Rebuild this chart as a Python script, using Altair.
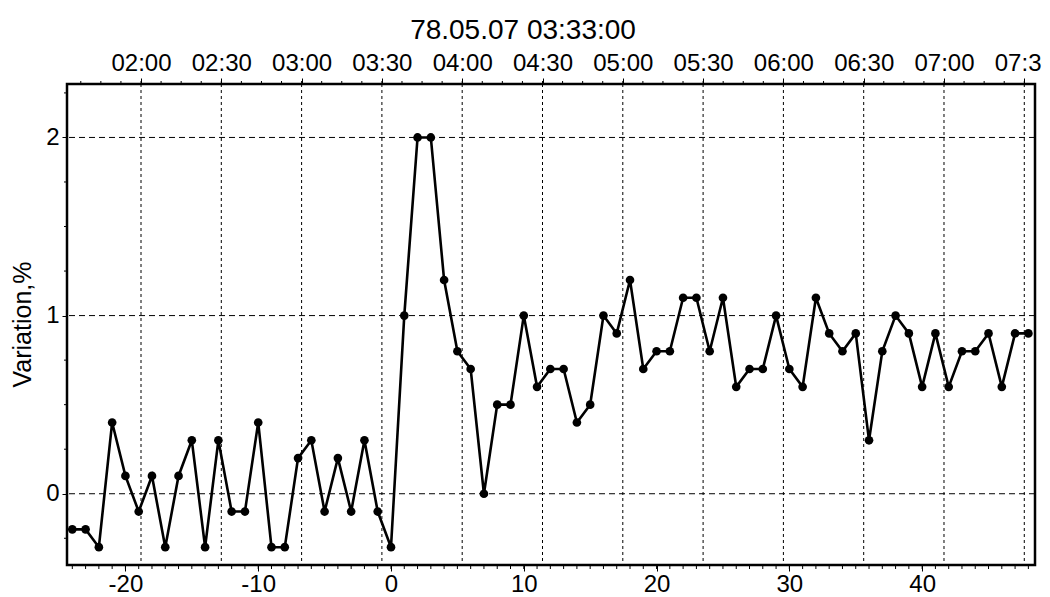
import json
import altair as alt
import pandas as pd

# ---- data ----
x_index = list(range(-24, 49))
variation = [
    -0.2, -0.2, -0.3, 0.4, 0.1, -0.1, 0.1, -0.3, 0.1, 0.3,
    -0.3, 0.3, -0.1, -0.1, 0.4, -0.3, -0.3, 0.2, 0.3, -0.1,
    0.2, -0.1, 0.3, -0.1, -0.3, 1.0, 2.0, 2.0, 1.2, 0.8,
    0.7, 0.0, 0.5, 0.5, 1.0, 0.6, 0.7, 0.7, 0.4, 0.5,
    1.0, 0.9, 1.2, 0.7, 0.8, 0.8, 1.1, 1.1, 0.8, 1.1,
    0.6, 0.7, 0.7, 1.0, 0.7, 0.6, 1.1, 0.9, 0.8, 0.9,
    0.3, 0.8, 1.0, 0.9, 0.6, 0.9, 0.6, 0.8, 0.8, 0.9,
    0.6, 0.9, 0.9,
]
time_minutes = [120, 150, 180, 210, 240, 270, 300, 330, 360, 390, 420, 450]
time_labels = ["02:00", "02:30", "03:00", "03:30", "04:00", "04:30",
               "05:00", "05:30", "06:00", "06:30", "07:00", "07:30"]
bottom_ticks = [-20, -10, 0, 10, 20, 30, 40]
y_ticks = [0, 1, 2]
title_text = "78.05.07 03:33:00"
y_title = "Variation,%"

# minor tick positions (axis decoration)
top_minor = [97.5 + 7.5 * k for k in range(48)]
bottom_minor = list(range(-24, 49))
left_minor = [-0.25, 0.25, 0.5, 0.75, 1.25, 1.5, 1.75, 2.25]

FONT = "Liberation Sans"

df = pd.DataFrame({"x": x_index, "v": variation})

x_scale = alt.Scale(domain=[-24.4, 48.5], nice=False, zero=False)
y_scale = alt.Scale(domain=[-0.4, 2.3], nice=False, zero=False)
t_scale = alt.Scale(domain=[92.35, 454.0], nice=False, zero=False)

label_expr = f"{json.dumps(time_labels)}[indexof({json.dumps(time_minutes)}, datum.value)]"

y_axis = alt.Axis(values=y_ticks, grid=False, domain=False, tickSize=5,
                  labelPadding=3, title=y_title, titleX=-45, titleY=240,
                  titleAngle=-90, titleAlign="center", titleBaseline="middle",
                  titleFontSize=25, labelExpr="datum.value + ''")

def Y(field):
    return alt.Y(field, scale=y_scale, axis=y_axis, title=y_title)

vgrid = alt.Chart(pd.DataFrame({"t": time_minutes})).mark_rule(
    color="black", strokeWidth=1, strokeDash=[3, 3]
).encode(
    x=alt.X("t:Q", scale=t_scale,
            axis=alt.Axis(orient="top", values=time_minutes, labelExpr=label_expr,
                          title=None, grid=False, domain=False, tickSize=6,
                          labelPadding=3))
)

top_minor_ticks = alt.Chart(pd.DataFrame({"t": top_minor})).mark_rule(
    color="black", strokeWidth=1
).encode(
    x=alt.X("t:Q", scale=t_scale, axis=None),
    y=alt.value(-3), y2=alt.value(0)
)

hgrid = alt.Chart(pd.DataFrame({"g": y_ticks})).mark_rule(
    color="black", strokeWidth=1, strokeDash=[6, 4]
).encode(y=Y("g:Q"))

line = alt.Chart(df).mark_line(color="black", strokeWidth=2.6).encode(
    x=alt.X("x:Q", scale=x_scale,
            axis=alt.Axis(orient="bottom", values=bottom_ticks, title=None,
                          grid=False, domain=False, tickSize=6, labelPadding=1,
                          labelExpr="datum.value + ''")),
    y=Y("v:Q"),
)

points = alt.Chart(df).mark_point(filled=True, color="black", size=75, opacity=1).encode(
    x=alt.X("x:Q", scale=x_scale, axis=None),
    y=Y("v:Q"),
)

bottom_minor_ticks = alt.Chart(pd.DataFrame({"m": bottom_minor})).mark_rule(
    color="black", strokeWidth=1
).encode(
    x=alt.X("m:Q", scale=x_scale, axis=None),
    y=alt.value(481), y2=alt.value(485)
)

left_minor_ticks = alt.Chart(pd.DataFrame({"ym": left_minor})).mark_rule(
    color="black", strokeWidth=1
).encode(
    y=Y("ym:Q"),
    x=alt.value(-3), x2=alt.value(0)
)

chart = alt.layer(
    vgrid, top_minor_ticks, hgrid, line, points, bottom_minor_ticks, left_minor_ticks
).resolve_scale(x="independent").properties(
    width=968, height=481,
    autosize=alt.AutoSizeParams(type="none"),
    padding={"left": 59, "top": 76, "right": 7, "bottom": 36},
    title=alt.TitleParams(text=title_text, font=FONT, fontSize=28, fontWeight="normal",
                          color="black", anchor="middle", dx=-28, offset=6),
).configure_view(
    stroke="black", strokeWidth=2.5
).configure_axis(
    labelFont=FONT, labelFontSize=24, labelColor="black", tickColor="black",
    titleFont=FONT, titleColor="black", titleFontWeight="normal",
)

chart.save("out.html", embed_options={"renderer": "svg", "actions": False})
